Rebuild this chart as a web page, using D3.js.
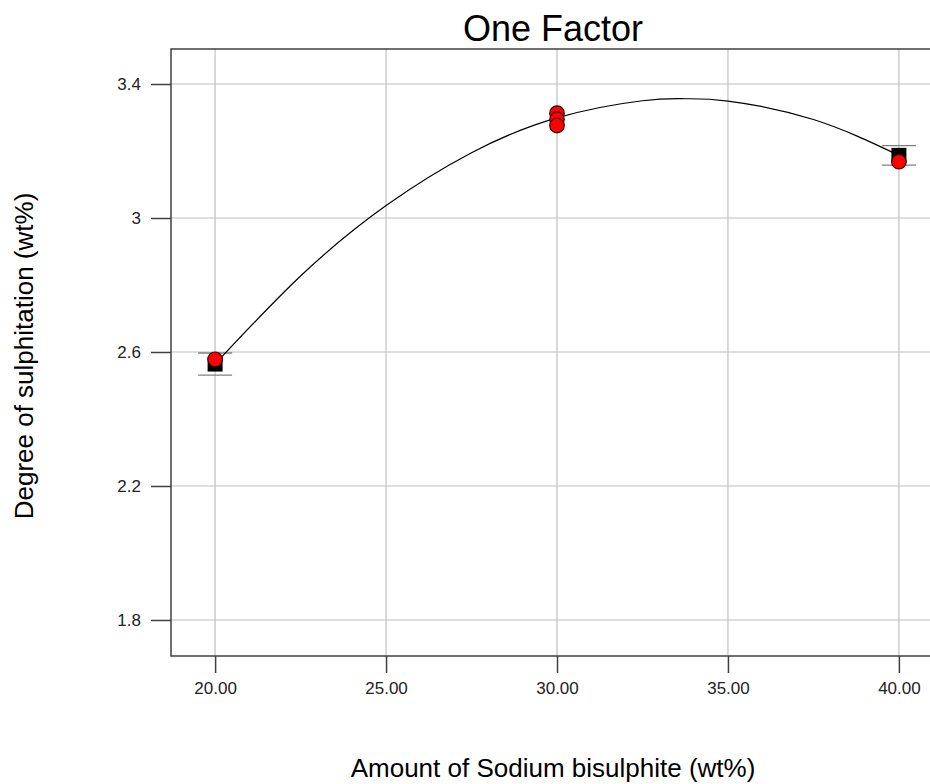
<!DOCTYPE html>
<html>
<head>
<meta charset="utf-8">
<script src="https://cdn.jsdelivr.net/npm/d3@7"></script>
<style>
  body { margin: 0; background: #fff; }
  text { font-family: Arial, "Liberation Sans", sans-serif; }
</style>
</head>
<body>
<div id="chart"></div>
<script>
// One Factor plot: degree of sulphitation vs amount of sodium bisulphite

// design points (actual runs)
var runX = [20, 30, 30, 30, 40];
var runY = [2.578, 3.313, 3.295, 3.276, 3.168];

// predicted values with their interval half-width
var predX = [20, 40];
var predY = [2.564, 3.187];
var predCI = [0.033, 0.029];

// model curve
var curveX = [20, 22.5, 25, 27.5, 30, 32.5, 33.75, 35, 37.5, 40];
var curveY = [2.564, 2.827, 3.037, 3.195, 3.299, 3.350, 3.356, 3.349, 3.294, 3.187];

var xTicks = [20, 25, 30, 35, 40];
var yTicks = [1.8, 2.2, 2.6, 3.0, 3.4];

var W = 930, H = 784;
var plot = {left: 171, right: 943, top: 49, bottom: 656};

var svg = d3.select("#chart")
  .append("svg")
    .attr("width", W)
    .attr("height", H);

var x = d3.scaleLinear()
  .domain([18.71, 41.29])
  .range([plot.left, plot.right]);

var y = d3.scaleLinear()
  .domain([1.6925, 3.5045])
  .range([plot.bottom, plot.top]);

// grid lines
svg.append("g")
  .selectAll("line.vg")
  .data(xTicks)
  .enter().append("line")
    .attr("x1", d => x(d)).attr("x2", d => x(d))
    .attr("y1", plot.top).attr("y2", plot.bottom)
    .style("stroke", "#c0c0c0").style("stroke-width", 1.2);

svg.append("g")
  .selectAll("line.hg")
  .data(yTicks)
  .enter().append("line")
    .attr("x1", plot.left).attr("x2", plot.right)
    .attr("y1", d => y(d)).attr("y2", d => y(d))
    .style("stroke", "#c0c0c0").style("stroke-width", 1.2);

// axes (ticks outside the frame)
var xAxis = svg.append("g")
  .attr("transform", "translate(0," + plot.bottom + ")")
  .call(d3.axisBottom(x).tickValues(xTicks).tickSize(17).tickPadding(9)
    .tickFormat(d3.format(".2f")));
xAxis.select(".domain").remove();
xAxis.selectAll("line").style("stroke", "#404040").style("stroke-width", 1.5);
xAxis.selectAll("text")
  .style("font-size", "17px")
  .style("fill", "#222")
  .style("font-family", "Arial, 'Liberation Sans', sans-serif");

var yAxis = svg.append("g")
  .attr("transform", "translate(" + plot.left + ",0)")
  .call(d3.axisLeft(y).tickValues(yTicks).tickSize(20).tickPadding(10)
    .tickFormat(d => d === 3 ? "3" : d3.format(".1f")(d)));
yAxis.select(".domain").remove();
yAxis.selectAll("line").style("stroke", "#404040").style("stroke-width", 1.5);
yAxis.selectAll("text")
  .style("font-size", "17px")
  .style("fill", "#222")
  .style("font-family", "Arial, 'Liberation Sans', sans-serif");

// frame
svg.append("rect")
  .attr("x", plot.left).attr("y", plot.top)
  .attr("width", plot.right - plot.left)
  .attr("height", plot.bottom - plot.top)
  .style("fill", "none")
  .style("stroke", "#404040")
  .style("stroke-width", 1.5);

// prediction squares and interval caps
var preds = predX.map((d, i) => ({x: d, y: predY[i], ci: predCI[i]}));

svg.append("g")
  .selectAll("rect")
  .data(preds)
  .enter().append("rect")
    .attr("x", d => x(d.x) - 7.5)
    .attr("y", d => y(d.y) - 7.5)
    .attr("width", 15).attr("height", 15)
    .style("fill", "#000");

var caps = svg.append("g");
preds.forEach(function(d) {
  [d.y - d.ci, d.y + d.ci].forEach(function(v) {
    caps.append("line")
      .attr("x1", x(d.x) - 17).attr("x2", x(d.x) + 17)
      .attr("y1", y(v)).attr("y2", y(v))
      .style("stroke", "#808080").style("stroke-width", 1.3);
  });
});

// model curve
var line = d3.line()
  .x((d, i) => x(curveX[i]))
  .y(d => y(d))
  .curve(d3.curveNatural);

svg.append("path")
  .datum(curveY)
  .attr("d", line)
  .style("fill", "none")
  .style("stroke", "#000")
  .style("stroke-width", 1.2);

// actual runs
svg.append("g")
  .selectAll("circle")
  .data(runX.map((d, i) => ({x: d, y: runY[i]})))
  .enter().append("circle")
    .attr("cx", d => x(d.x))
    .attr("cy", d => y(d.y))
    .attr("r", 7.3)
    .style("fill", "#ff0000")
    .style("stroke", "#300000")
    .style("stroke-width", 1.1);

// title
svg.append("text")
  .attr("x", 553).attr("y", 41)
  .attr("text-anchor", "middle")
  .style("font-size", "36px")
  .style("fill", "#000")
  .text("One Factor");

// axis titles
svg.append("text")
  .attr("x", 553).attr("y", 777)
  .attr("text-anchor", "middle")
  .style("font-size", "26px")
  .style("fill", "#000")
  .text("Amount of Sodium bisulphite (wt%)");

svg.append("text")
  .attr("transform", "translate(33," + 356 + ") rotate(-90)")
  .attr("text-anchor", "middle")
  .style("font-size", "26px")
  .style("fill", "#000")
  .text("Degree of sulphitation (wt%)");
</script>
</body>
</html>
